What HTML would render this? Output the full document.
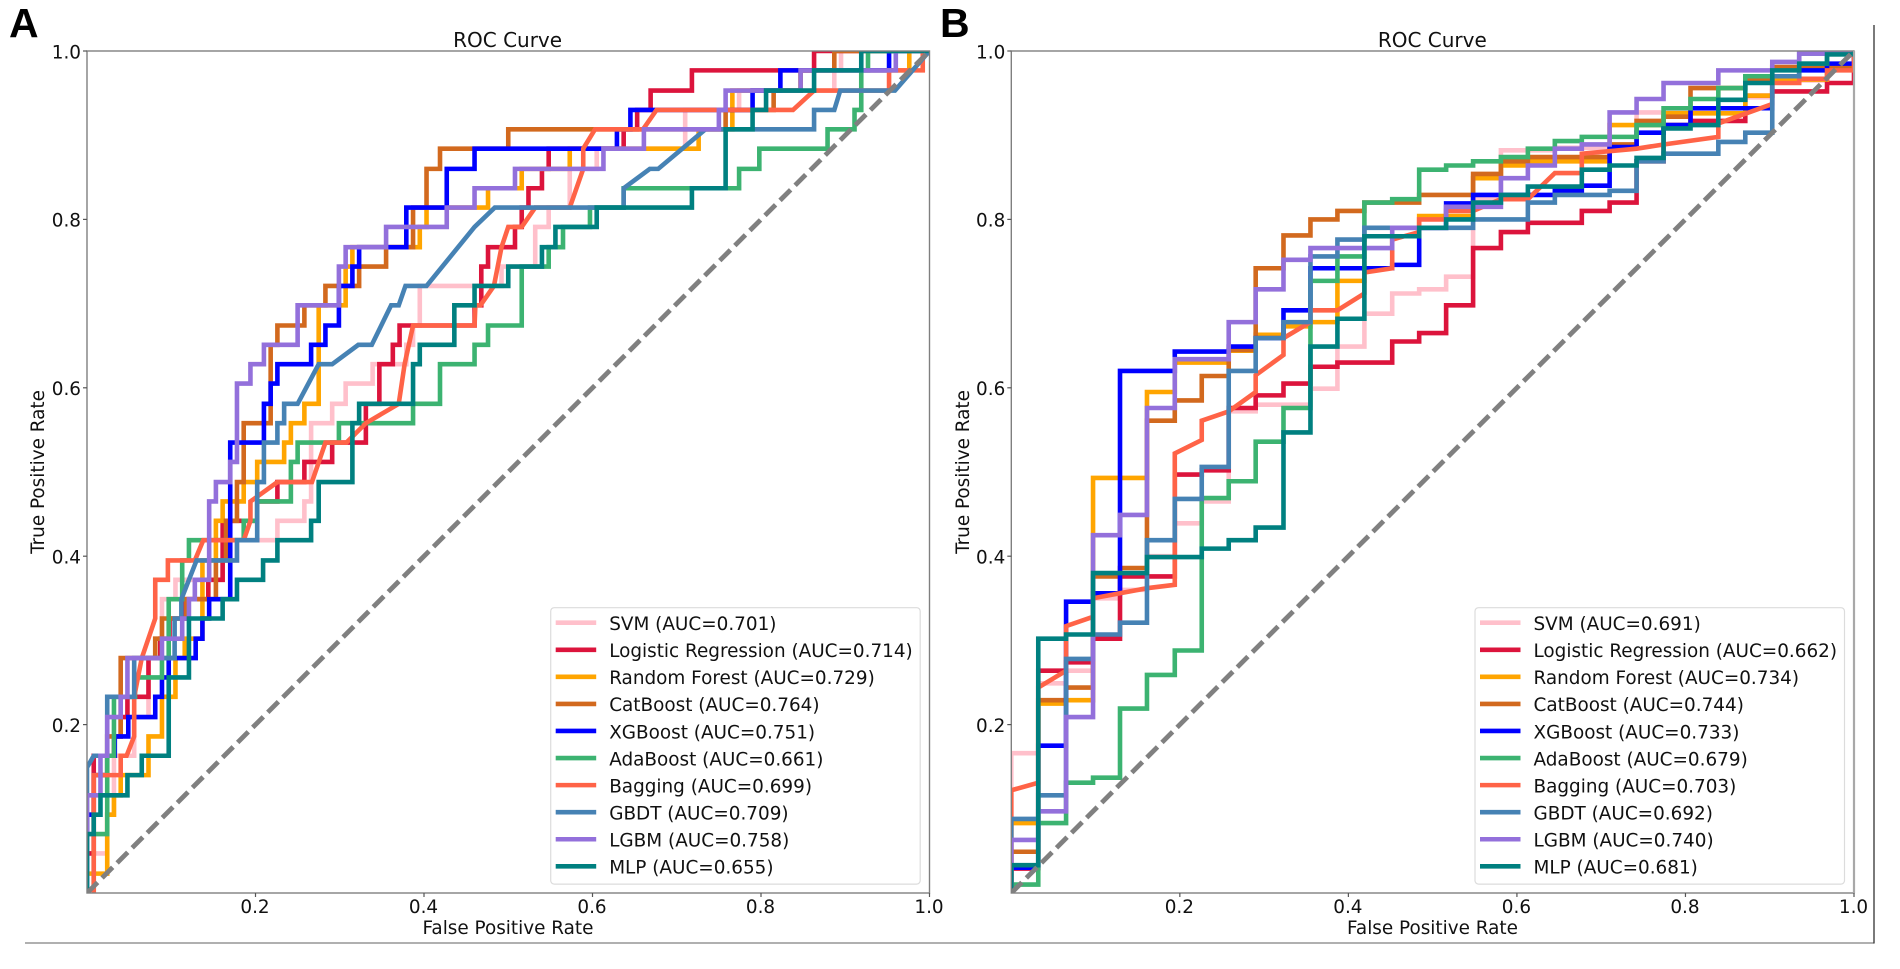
<!DOCTYPE html>
<html lang="en">
<head>
<meta charset="utf-8">
<title>ROC Curves</title>
<style>
html,body{margin:0;padding:0;background:#fff;width:1900px;height:969px;overflow:hidden}
svg{display:block}
text{font-family:"DejaVu Sans","Liberation Sans",sans-serif;font-size:18.4px;fill:#111}
text.chart-title{font-size:20px}
.panel-letter{font-family:"Liberation Sans",sans-serif;font-weight:700;font-size:41px;fill:#000}
</style>
</head>
<body>
<svg id="figure" xmlns="http://www.w3.org/2000/svg" width="1900" height="969" viewBox="0 0 1900 969">
  <defs>
    <clipPath id="clipA"><rect x="87" y="51" width="842.5" height="842"/></clipPath>
    <clipPath id="clipB"><rect x="1011.3" y="51" width="842.7" height="842"/></clipPath>
  </defs>
  <rect x="0" y="0" width="1900" height="969" fill="#fff"/>
  <line x1="25" y1="943" x2="1874" y2="943" stroke="#808080" stroke-width="1.3"/>
  <line x1="1874" y1="25" x2="1874" y2="943.5" stroke="#333" stroke-width="1.3"/>
  <text class="panel-letter" x="9" y="37">A</text>
  <text class="panel-letter" x="940" y="37">B</text>
  <g id="panelA">
    <text class="chart-title" x="507.6" y="47" text-anchor="middle">ROC Curve</text>
    <text x="508" y="934" text-anchor="middle">False Positive Rate</text>
    <text transform="translate(44,472) rotate(-90)" text-anchor="middle">True Positive Rate</text>
  </g>
  <g id="panelB">
    <text class="chart-title" x="1432.3" y="47" text-anchor="middle">ROC Curve</text>
    <text x="1432.5" y="934" text-anchor="middle">False Positive Rate</text>
    <text transform="translate(969,472) rotate(-90)" text-anchor="middle">True Positive Rate</text>
  </g>
</svg>
<script>
const modelNames = ["SVM","Logistic Regression","Random Forest","CatBoost","XGBoost","AdaBoost","Bagging","GBDT","LGBM","MLP"];
const aucA = ["0.701","0.714","0.729","0.764","0.751","0.661","0.699","0.709","0.758","0.655"];
const aucB = ["0.691","0.662","0.734","0.744","0.733","0.679","0.703","0.692","0.740","0.681"];
const modelColors = ["#FFC0CB","#DC143C","#FFA500","#D2691E","#0000FF","#3CB371","#FF6347","#4682B4","#9370DB","#008080"];
const axisTicks = [0.2,0.4,0.6,0.8,1.0];
const axisTickLabels = ["0.2","0.4","0.6","0.8","1.0"];
const diagonalFpr = [0,1];
const diagonalTpr = [0,1];

/* Panel A: step series — fpr where the curve rises to the matching tpr */
const fprA_svm = [0,.024,.032,.056,.073,.081,.089,.105,.161,.178,.226,.258,.266,.291,.307,.339,.379,.387,.395,.492,.532,.548,.573,.605,.710,.774,.887,.895];
const tprA_svm = [.047,.093,.163,.209,.279,.302,.349,.372,.395,.419,.442,.465,.558,.581,.605,.628,.651,.674,.721,.744,.791,.814,.860,.884,.930,.953,.977,1];
const fprA_lr = [0,.008,.032,.040,.048,.073,.087,.098,.116,.144,.161,.202,.226,.258,.291,.331,.347,.363,.371,.460,.468,.476,.508,.516,.524,.540,.548,.637,.653,.669,.718,.863];
const tprA_lr = [.047,.163,.186,.209,.233,.279,.302,.326,.349,.372,.442,.465,.488,.512,.535,.581,.628,.651,.674,.698,.744,.767,.791,.814,.837,.860,.884,.907,.930,.953,.977,1];
const fprA_rf = [0,.024,.032,.040,.073,.089,.105,.116,.137,.153,.161,.186,.202,.234,.242,.258,.275,.307,.315,.395,.403,.476,.516,.573,.726,.766,.847,.976];
const tprA_rf = [.023,.093,.116,.140,.186,.233,.279,.302,.395,.442,.465,.488,.512,.535,.558,.581,.698,.744,.767,.791,.814,.837,.860,.884,.907,.953,.977,1];
const fprA_cat = [0,.008,.024,.040,.081,.089,.118,.153,.165,.178,.186,.218,.226,.258,.283,.323,.355,.387,.403,.419,.500,.758,.815,.847,.887];
const tprA_cat = [.093,.140,.186,.279,.302,.326,.349,.395,.442,.488,.558,.651,.674,.698,.721,.744,.767,.814,.860,.884,.907,.930,.953,.977,1];
const fprA_xgb = [0,.008,.024,.033,.049,.081,.089,.097,.129,.137,.145,.170,.210,.218,.226,.266,.283,.299,.315,.323,.379,.427,.460,.629,.645,.790,.823,.952];
const tprA_xgb = [.093,.140,.163,.186,.209,.233,.256,.279,.302,.326,.349,.535,.581,.605,.628,.651,.674,.721,.744,.767,.814,.860,.884,.907,.930,.953,.977,1];
const fprA_ada = [.008,.024,.032,.057,.089,.097,.113,.121,.186,.202,.242,.250,.299,.387,.419,.460,.476,.516,.548,.565,.597,.637,.774,.798,.879,.911,.919,.927];
const tprA_ada = [.070,.163,.233,.256,.279,.349,.395,.419,.442,.465,.512,.535,.558,.581,.628,.651,.674,.744,.767,.791,.814,.837,.860,.884,.907,.930,.977,1];
/* Panel A: Bagging and GBDT are drawn point to point */
const fprA_bag = [.008,.008,.008,.040,.040,.047,.056,.056,.065,.081,.081,.096,.096,.128,.138,.186,.194,.194,.226,.267,.283,.308,.331,.370,.377,.387,.460,.461,.467,.483,.492,.500,.516,.532,.573,.589,.589,.603,.660,.676,.838,.863,.952,.952,.992,.992,1];
const tprA_bag = [0,.093,.140,.140,.163,.163,.186,.233,.279,.326,.372,.372,.395,.395,.419,.419,.442,.465,.488,.488,.535,.535,.558,.581,.628,.674,.674,.698,.698,.721,.767,.791,.791,.814,.814,.860,.884,.907,.907,.930,.930,.953,.953,.977,.977,1,1];
const fprA_gbdt = [0,0,.008,.024,.024,.056,.056,.104,.104,.112,.112,.130,.178,.178,.202,.202,.210,.210,.226,.226,.234,.234,.250,.275,.291,.322,.338,.361,.370,.378,.403,.460,.484,.637,.637,.668,.678,.734,.863,.863,.887,.894,.959,1];
const tprA_gbdt = [0,.149,.163,.163,.233,.233,.279,.279,.326,.326,.349,.395,.395,.419,.419,.488,.488,.535,.535,.558,.558,.581,.581,.628,.628,.651,.651,.698,.698,.721,.721,.791,.814,.814,.837,.860,.860,.907,.907,.930,.930,.953,.953,1];
const fprA_lgbm = [0,.016,.024,.040,.048,.089,.113,.121,.128,.145,.153,.170,.178,.194,.210,.250,.299,.307,.355,.427,.460,.508,.613,.661,.750,.758,.847,.960];
const tprA_lgbm = [.116,.163,.209,.233,.279,.302,.326,.349,.372,.465,.488,.512,.605,.628,.651,.698,.744,.767,.791,.814,.837,.860,.884,.907,.930,.953,.977,1];
const fprA_mlp = [0,.008,.016,.048,.065,.097,.121,.161,.178,.209,.226,.266,.275,.315,.323,.387,.395,.436,.460,.500,.540,.556,.605,.718,.758,.790,.806,.863,.919];
const tprA_mlp = [.070,.093,.116,.140,.163,.256,.326,.349,.372,.395,.419,.442,.488,.558,.581,.628,.651,.698,.721,.744,.767,.791,.814,.837,.907,.930,.953,.977,1];

/* Panel B */
const fprB_svm = [0,.032,.065,.097,.129,.161,.194,.226,.258,.290,.355,.387,.419,.452,.484,.516,.548,.581,.645,.742,.839,.871,.903,.968,1];
const tprB_svm = [.166,.249,.264,.350,.360,.400,.439,.465,.572,.580,.599,.649,.688,.712,.717,.732,.825,.882,.885,.927,.932,.945,.965,.981,1];
const fprB_lr = [0,.032,.065,.097,.129,.194,.226,.258,.290,.323,.355,.387,.452,.484,.516,.548,.581,.613,.677,.710,.742,.774,.806,.871,.903,.968,1];
const tprB_lr = [.029,.264,.274,.302,.376,.497,.502,.576,.591,.605,.625,.630,.655,.665,.698,.766,.785,.796,.810,.820,.869,.912,.917,.947,.952,.962,1];
const fprB_rf = [0,.032,.065,.097,.161,.194,.258,.290,.323,.355,.387,.419,.484,.548,.581,.613,.710,.774,.871,.903,.968,1];
const tprB_rf = [.083,.225,.229,.493,.595,.630,.644,.663,.673,.678,.727,.780,.804,.849,.864,.869,.912,.926,.947,.966,.980,1];
const fprB_cat = [0,.032,.065,.097,.129,.161,.194,.226,.258,.290,.323,.355,.387,.419,.484,.548,.581,.613,.710,.742,.774,.806,.871,.903,1];
const tprB_cat = [.049,.229,.244,.376,.386,.561,.585,.614,.645,.742,.781,.800,.810,.820,.829,.854,.869,.874,.889,.917,.922,.956,.966,.981,1];
const fprB_xgb = [0,.032,.065,.097,.129,.194,.258,.290,.323,.355,.452,.484,.516,.548,.645,.677,.710,.742,.774,.806,.903,.935,.968,1];
const tprB_xgb = [.030,.175,.346,.356,.620,.643,.649,.659,.692,.742,.746,.790,.819,.829,.834,.840,.886,.903,.912,.932,.970,.977,.985,1];
const fprB_ada = [0,.032,.065,.097,.129,.161,.194,.226,.258,.290,.323,.355,.387,.419,.452,.484,.516,.548,.581,.613,.645,.677,.742,.774,.806,.839,.871,.935,.968,1];
const tprB_ada = [.010,.083,.131,.137,.219,.259,.288,.469,.489,.536,.576,.727,.756,.820,.824,.859,.864,.869,.874,.884,.893,.898,.912,.932,.943,.956,.970,.985,.996,1];
const fprB_bag = [0,0,.032,.032,.065,.065,.097,.097,.129,.161,.194,.194,.226,.226,.258,.290,.290,.323,.323,.355,.355,.387,.419,.419,.452,.452,.484,.484,.516,.516,.548,.581,.613,.645,.677,.677,.742,.774,.839,.839,.903,.903,.935,.935,.968,.968,1,1];
const tprB_bag = [0,.122,.131,.244,.264,.317,.328,.350,.356,.362,.366,.522,.538,.561,.572,.595,.615,.639,.659,.678,.692,.692,.712,.737,.742,.776,.785,.800,.800,.810,.810,.824,.824,.855,.855,.878,.884,.889,.898,.914,.937,.962,.962,.967,.967,.977,.977,1];
const fprB_gbdt = [0,.032,.065,.097,.129,.161,.194,.226,.258,.290,.323,.355,.387,.419,.548,.613,.645,.710,.742,.774,.839,.871,.903,.935,1];
const tprB_gbdt = [.088,.116,.278,.307,.321,.419,.468,.506,.620,.659,.678,.756,.776,.790,.800,.820,.829,.834,.869,.878,.892,.903,.970,.997,1];
const fprB_lgbm = [0,.032,.065,.097,.129,.161,.194,.258,.290,.323,.355,.452,.516,.581,.613,.645,.677,.710,.742,.774,.839,.903,.935,1];
const tprB_lgbm = [.063,.097,.209,.425,.449,.576,.634,.678,.717,.752,.766,.790,.815,.849,.864,.884,.889,.927,.943,.962,.977,.987,.997,1];
const fprB_mlp = [0,.032,.065,.097,.161,.226,.258,.290,.323,.355,.387,.419,.484,.516,.548,.581,.613,.677,.710,.742,.774,.806,.839,.871,.903,.935,.968,1];
const tprB_mlp = [.033,.302,.307,.380,.399,.409,.419,.434,.547,.649,.682,.780,.790,.800,.820,.829,.839,.859,.864,.873,.908,.912,.942,.962,.977,.985,.996,1];

const fprSeriesA = [fprA_svm,fprA_lr,fprA_rf,fprA_cat,fprA_xgb,fprA_ada,fprA_bag,fprA_gbdt,fprA_lgbm,fprA_mlp];
const tprSeriesA = [tprA_svm,tprA_lr,tprA_rf,tprA_cat,tprA_xgb,tprA_ada,tprA_bag,tprA_gbdt,tprA_lgbm,tprA_mlp];
const fprSeriesB = [fprB_svm,fprB_lr,fprB_rf,fprB_cat,fprB_xgb,fprB_ada,fprB_bag,fprB_gbdt,fprB_lgbm,fprB_mlp];
const tprSeriesB = [tprB_svm,tprB_lr,tprB_rf,tprB_cat,tprB_xgb,tprB_ada,tprB_bag,tprB_gbdt,tprB_lgbm,tprB_mlp];
const pointToPointA = ["Bagging","GBDT"];
const pointToPointB = ["Bagging"];

const NS = "http://www.w3.org/2000/svg";
function svgEl(tag, parent, attrs) {
  const el = document.createElementNS(NS, tag);
  Object.keys(attrs).forEach(function (k) { el.setAttribute(k, attrs[k]); });
  parent.appendChild(el);
  return el;
}
function slug(s) { return s.toLowerCase().replace(/[^a-z0-9]+/g, "-"); }

function drawPanel(cfg) {
  const group = document.getElementById(cfg.groupId);
  const xScale = function (v) { return cfg.left + v * (cfg.right - cfg.left); };
  const yScale = function (v) { return 893 - v * 842; };
  const marks = svgEl("g", group, { "clip-path": "url(#" + cfg.clip + ")" });
  
  

  modelNames.forEach(function (name, s) {
    const fpr = cfg.fpr[s];
    const tpr = cfg.tpr[s];
    let d = "";
    if (cfg.pointToPoint.indexOf(name) >= 0) {
      fpr.forEach(function (f, i) {
        d += (i ? "L" : "M") + xScale(f).toFixed(2) + " " + yScale(tpr[i]).toFixed(2);
      });
    } else {
      d = "M" + xScale(fpr[0]).toFixed(2) + " " + yScale(0).toFixed(2);
      fpr.forEach(function (f, i) {
        d += "V" + yScale(tpr[i]).toFixed(2);
        const next = i + 1 < fpr.length ? fpr[i + 1] : 1;
        d += "H" + xScale(next).toFixed(2);
      });
    }
    const path = svgEl("path", marks, { d: d, fill: "none", stroke: modelColors[s], "stroke-width": 4.6, "stroke-linejoin": "miter" });
    
    
  });

  const diag = svgEl("line", marks, {
    x1: xScale(diagonalFpr[0]), y1: yScale(diagonalTpr[0]),
    x2: xScale(diagonalFpr[1]), y2: yScale(diagonalTpr[1]),
    stroke: "#808080", "stroke-width": 4.8, "stroke-dasharray": "15 6.3"
  });
  
  

  const frame = svgEl("rect", group, {
    x: cfg.left, y: 51, width: cfg.right - cfg.left, height: 842,
    fill: "none", stroke: "#7f7f7f", "stroke-width": 1.4
  });
  
  

  if (cfg.id === "b") {
    const rightSpine = svgEl("line", group, { x1: cfg.right, x2: cfg.right, y1: 51, y2: 893, stroke: "#a8a8a8", "stroke-width": 2.2 });
    
    
  }

  axisTicks.forEach(function (t, i) {
    const tx = svgEl("line", group, { x1: xScale(t), x2: xScale(t), y1: 893, y2: 897, stroke: "#555", "stroke-width": 1.2 });
    
    
    const ty = svgEl("line", group, { x1: cfg.left - 4, x2: cfg.left, y1: yScale(t), y2: yScale(t), stroke: "#555", "stroke-width": 1.2 });
    
    
    const lx = svgEl("text", group, { x: xScale(t) - 0.5, y: 913, "text-anchor": "middle" });
    lx.textContent = axisTickLabels[i];
    
    
    const ly = svgEl("text", group, { x: cfg.left - 6, y: yScale(t) + 7.3, "text-anchor": "end" });
    ly.textContent = axisTickLabels[i];
    
    
  });

  const legend = svgEl("g", group, {});
  
  
  const box = svgEl("rect", legend, {
    x: cfg.legendX, y: 607.7, width: 369.5, height: 276.4, rx: 3.5, ry: 3.5,
    fill: "#fff", stroke: "#dcdcdc", "stroke-width": 1.2
  });
  
  
  modelNames.forEach(function (name, s) {
    const rowY = 622.7 + s * 27.07;
    const handle = svgEl("line", legend, {
      x1: cfg.legendX + 5, x2: cfg.legendX + 45.5, y1: rowY, y2: rowY,
      stroke: modelColors[s], "stroke-width": 4.6
    });
    
    
    const label = svgEl("text", legend, { x: cfg.legendX + 58.5, y: rowY + 7.3 });
    label.textContent = name + " (AUC=" + cfg.auc[s] + ")";
    
    
  });
}

drawPanel({ id: "a", groupId: "panelA", clip: "clipA", left: 87, right: 929.5, legendX: 550.7, auc: aucA, fpr: fprSeriesA, tpr: tprSeriesA, pointToPoint: pointToPointA });
drawPanel({ id: "b", groupId: "panelB", clip: "clipB", left: 1011.3, right: 1854, legendX: 1475, auc: aucB, fpr: fprSeriesB, tpr: tprSeriesB, pointToPoint: pointToPointB });
</script>
</body>
</html>
